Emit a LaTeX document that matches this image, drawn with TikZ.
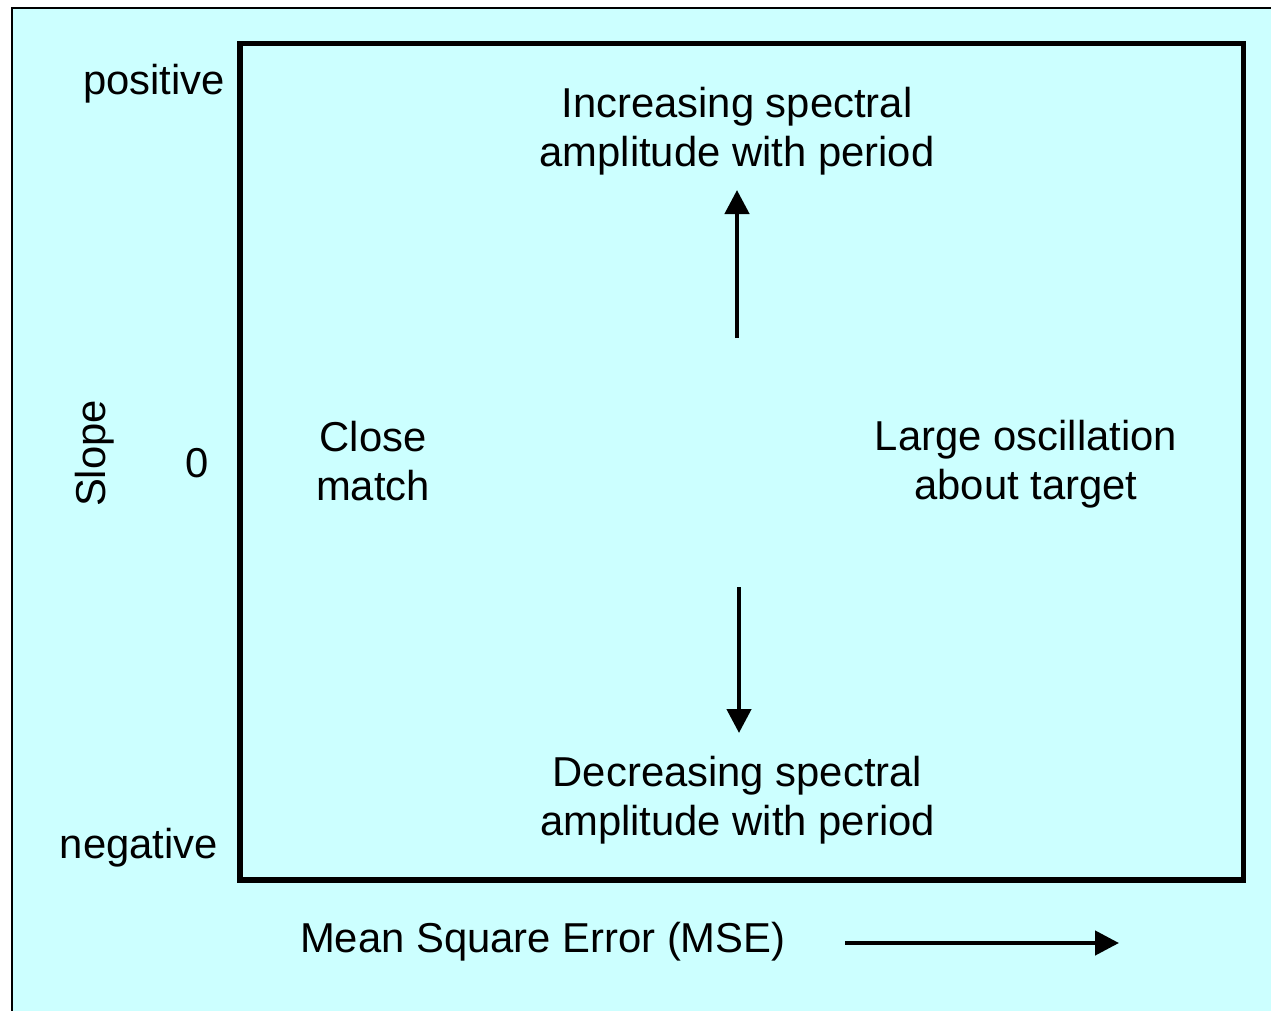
\documentclass[tikz,border=0pt]{standalone}
\usepackage{fontspec}
\setmainfont{Liberation Sans}
\usetikzlibrary{arrows.meta}
\definecolor{bgcyan}{RGB}{204,255,255}
\begin{document}
\begin{tikzpicture}[x=1pt,y=-1pt,
  lbl/.style={inner sep=0pt, outer sep=0pt, font=\fontsize{41.8}{49}\selectfont, align=center},
  arr/.style={line width=4.5pt, -{Triangle[length=24pt,width=24pt]}},
  frame/.style={line width=5.5pt}]
\useasboundingbox (0,0) rectangle (1271,1011);
\fill[white] (0,0) rectangle (1271,1011);
\fill[bgcyan] (12,8) rectangle (1271,1011);
\draw[line width=2.5pt] (12,1011) -- (12,8) -- (1271,8);
\draw[frame] (240,43.5) rectangle (1243.5,880);
% labels
\node[lbl, anchor=base east] (pos) at (225,95) {positive};
\node[lbl, anchor=base east] (neg) at (218,858) {negative};
\node[lbl, anchor=base] (zero) at (197,477) {0};
\node[lbl, anchor=base, rotate=90] (slope) at (105,453.5) {Slope};
\node[lbl, anchor=base west] (mse) at (300,952) {Mean Square Error (MSE)};
\node[lbl] (inc) at (737,131) {Increasing spectral\\amplitude with period};
\node[lbl] (dec) at (737.5,800) {Decreasing spectral\\amplitude with period};
\node[lbl] (close) at (373,461) {Close\\match};
\node[lbl] (large) at (1026,464) {Large oscillation\\about target};
% arrows
\coordinate (upS) at (737,338);
\coordinate (upE) at (737,190);
\coordinate (dnS) at (739,587);
\coordinate (dnE) at (739,733);
\coordinate (mS) at (845,943);
\coordinate (mE) at (1119,943);
\draw[arr] (upS) -- (upE);
\draw[arr] (dnS) -- (dnE);
\draw[arr] (mS) -- (mE);
\end{tikzpicture}
\end{document}
